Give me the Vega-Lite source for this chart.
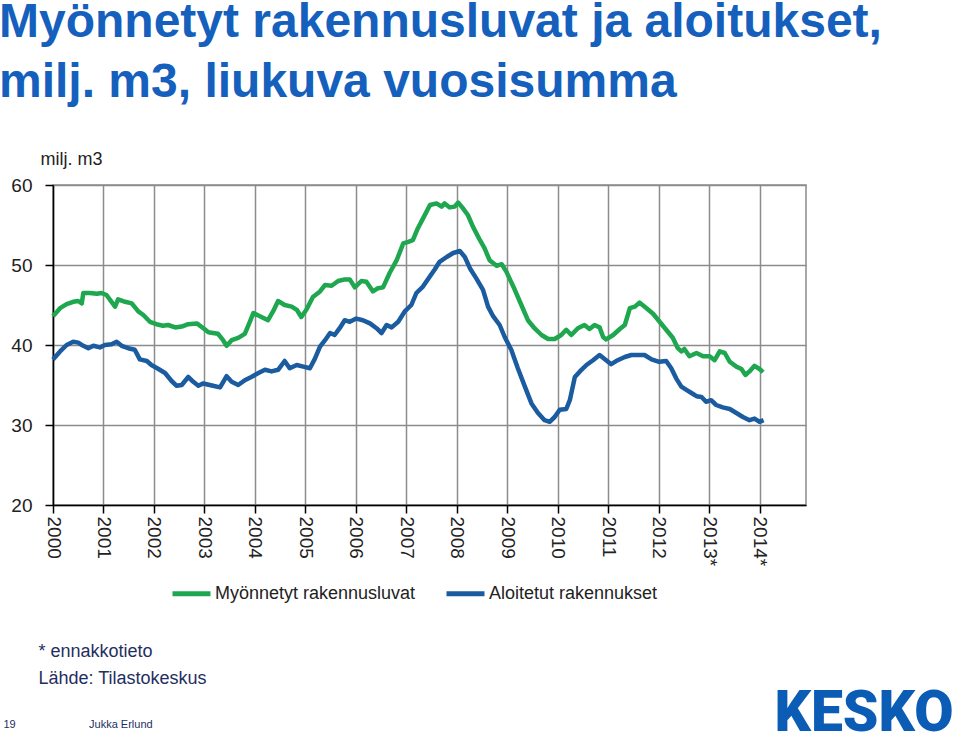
{
  "$schema": "https://vega.github.io/schema/vega-lite/v6.json",
  "width": 753,
  "height": 320,
  "autosize": {"type": "none"},
  "padding": {"left": 53, "top": 185, "right": 154, "bottom": 228},
  "background": "white",
  "config": {"view": {"stroke": "#8c8c8c", "strokeWidth": 1.5}, "font": "Liberation Sans"},
  "title": {
    "text": ["Myönnetyt rakennusluvat ja aloitukset,", "milj. m3, liukuva vuosisumma"],
    "anchor": "start",
    "frame": "group",
    "font": "Liberation Sans",
    "fontSize": 48,
    "fontWeight": "bold",
    "color": "#1560bd",
    "lineHeight": 60,
    "dx": -54,
    "offset": 43
  },
  "data": {"values": [
    {"s": "Myönnetyt rakennusluvat", "t": 2000.00, "v": 43.6},
    {"s": "Myönnetyt rakennusluvat", "t": 2000.14, "v": 44.6},
    {"s": "Myönnetyt rakennusluvat", "t": 2000.27, "v": 45.1},
    {"s": "Myönnetyt rakennusluvat", "t": 2000.40, "v": 45.4},
    {"s": "Myönnetyt rakennusluvat", "t": 2000.50, "v": 45.5},
    {"s": "Myönnetyt rakennusluvat", "t": 2000.57, "v": 45.2},
    {"s": "Myönnetyt rakennusluvat", "t": 2000.60, "v": 46.5},
    {"s": "Myönnetyt rakennusluvat", "t": 2000.73, "v": 46.5},
    {"s": "Myönnetyt rakennusluvat", "t": 2000.87, "v": 46.4},
    {"s": "Myönnetyt rakennusluvat", "t": 2000.96, "v": 46.5},
    {"s": "Myönnetyt rakennusluvat", "t": 2001.06, "v": 46.25},
    {"s": "Myönnetyt rakennusluvat", "t": 2001.16, "v": 45.4},
    {"s": "Myönnetyt rakennusluvat", "t": 2001.23, "v": 44.8},
    {"s": "Myönnetyt rakennusluvat", "t": 2001.29, "v": 45.7},
    {"s": "Myönnetyt rakennusluvat", "t": 2001.43, "v": 45.4},
    {"s": "Myönnetyt rakennusluvat", "t": 2001.56, "v": 45.2},
    {"s": "Myönnetyt rakennusluvat", "t": 2001.69, "v": 44.2},
    {"s": "Myönnetyt rakennusluvat", "t": 2001.79, "v": 43.75},
    {"s": "Myönnetyt rakennusluvat", "t": 2001.92, "v": 42.9},
    {"s": "Myönnetyt rakennusluvat", "t": 2002.05, "v": 42.6},
    {"s": "Myönnetyt rakennusluvat", "t": 2002.18, "v": 42.4},
    {"s": "Myönnetyt rakennusluvat", "t": 2002.28, "v": 42.5},
    {"s": "Myönnetyt rakennusluvat", "t": 2002.42, "v": 42.2},
    {"s": "Myönnetyt rakennusluvat", "t": 2002.55, "v": 42.3},
    {"s": "Myönnetyt rakennusluvat", "t": 2002.68, "v": 42.6},
    {"s": "Myönnetyt rakennusluvat", "t": 2002.85, "v": 42.7},
    {"s": "Myönnetyt rakennusluvat", "t": 2002.98, "v": 42.1},
    {"s": "Myönnetyt rakennusluvat", "t": 2003.08, "v": 41.6},
    {"s": "Myönnetyt rakennusluvat", "t": 2003.17, "v": 41.5},
    {"s": "Myönnetyt rakennusluvat", "t": 2003.27, "v": 41.4},
    {"s": "Myönnetyt rakennusluvat", "t": 2003.37, "v": 40.6},
    {"s": "Myönnetyt rakennusluvat", "t": 2003.44, "v": 39.9},
    {"s": "Myönnetyt rakennusluvat", "t": 2003.54, "v": 40.6},
    {"s": "Myönnetyt rakennusluvat", "t": 2003.67, "v": 40.9},
    {"s": "Myönnetyt rakennusluvat", "t": 2003.80, "v": 41.4},
    {"s": "Myönnetyt rakennusluvat", "t": 2003.90, "v": 42.9},
    {"s": "Myönnetyt rakennusluvat", "t": 2003.97, "v": 44.0},
    {"s": "Myönnetyt rakennusluvat", "t": 2004.10, "v": 43.6},
    {"s": "Myönnetyt rakennusluvat", "t": 2004.26, "v": 43.1},
    {"s": "Myönnetyt rakennusluvat", "t": 2004.36, "v": 44.2},
    {"s": "Myönnetyt rakennusluvat", "t": 2004.46, "v": 45.5},
    {"s": "Myönnetyt rakennusluvat", "t": 2004.59, "v": 45.0},
    {"s": "Myönnetyt rakennusluvat", "t": 2004.73, "v": 44.8},
    {"s": "Myönnetyt rakennusluvat", "t": 2004.83, "v": 44.4},
    {"s": "Myönnetyt rakennusluvat", "t": 2004.92, "v": 43.5},
    {"s": "Myönnetyt rakennusluvat", "t": 2005.02, "v": 44.4},
    {"s": "Myönnetyt rakennusluvat", "t": 2005.15, "v": 46.0},
    {"s": "Myönnetyt rakennusluvat", "t": 2005.29, "v": 46.7},
    {"s": "Myönnetyt rakennusluvat", "t": 2005.39, "v": 47.5},
    {"s": "Myönnetyt rakennusluvat", "t": 2005.52, "v": 47.4},
    {"s": "Myönnetyt rakennusluvat", "t": 2005.65, "v": 48.0},
    {"s": "Myönnetyt rakennusluvat", "t": 2005.78, "v": 48.2},
    {"s": "Myönnetyt rakennusluvat", "t": 2005.88, "v": 48.2},
    {"s": "Myönnetyt rakennusluvat", "t": 2005.98, "v": 47.2},
    {"s": "Myönnetyt rakennusluvat", "t": 2006.11, "v": 48.0},
    {"s": "Myönnetyt rakennusluvat", "t": 2006.21, "v": 47.9},
    {"s": "Myönnetyt rakennusluvat", "t": 2006.34, "v": 46.7},
    {"s": "Myönnetyt rakennusluvat", "t": 2006.44, "v": 47.1},
    {"s": "Myönnetyt rakennusluvat", "t": 2006.54, "v": 47.2},
    {"s": "Myönnetyt rakennusluvat", "t": 2006.67, "v": 49.0},
    {"s": "Myönnetyt rakennusluvat", "t": 2006.81, "v": 50.6},
    {"s": "Myönnetyt rakennusluvat", "t": 2006.94, "v": 52.7},
    {"s": "Myönnetyt rakennusluvat", "t": 2007.04, "v": 52.9},
    {"s": "Myönnetyt rakennusluvat", "t": 2007.13, "v": 53.1},
    {"s": "Myönnetyt rakennusluvat", "t": 2007.23, "v": 54.6},
    {"s": "Myönnetyt rakennusluvat", "t": 2007.33, "v": 55.8},
    {"s": "Myönnetyt rakennusluvat", "t": 2007.47, "v": 57.5},
    {"s": "Myönnetyt rakennusluvat", "t": 2007.60, "v": 57.7},
    {"s": "Myönnetyt rakennusluvat", "t": 2007.70, "v": 57.3},
    {"s": "Myönnetyt rakennusluvat", "t": 2007.76, "v": 57.7},
    {"s": "Myönnetyt rakennusluvat", "t": 2007.86, "v": 57.2},
    {"s": "Myönnetyt rakennusluvat", "t": 2007.96, "v": 57.3},
    {"s": "Myönnetyt rakennusluvat", "t": 2008.03, "v": 57.8},
    {"s": "Myönnetyt rakennusluvat", "t": 2008.12, "v": 57.1},
    {"s": "Myönnetyt rakennusluvat", "t": 2008.22, "v": 56.25},
    {"s": "Myönnetyt rakennusluvat", "t": 2008.32, "v": 54.8},
    {"s": "Myönnetyt rakennusluvat", "t": 2008.46, "v": 53.1},
    {"s": "Myönnetyt rakennusluvat", "t": 2008.55, "v": 52.1},
    {"s": "Myönnetyt rakennusluvat", "t": 2008.65, "v": 50.6},
    {"s": "Myönnetyt rakennusluvat", "t": 2008.79, "v": 49.9},
    {"s": "Myönnetyt rakennusluvat", "t": 2008.89, "v": 50.1},
    {"s": "Myönnetyt rakennusluvat", "t": 2008.98, "v": 49.2},
    {"s": "Myönnetyt rakennusluvat", "t": 2009.15, "v": 46.9},
    {"s": "Myönnetyt rakennusluvat", "t": 2009.28, "v": 45.0},
    {"s": "Myönnetyt rakennusluvat", "t": 2009.41, "v": 43.1},
    {"s": "Myönnetyt rakennusluvat", "t": 2009.54, "v": 42.1},
    {"s": "Myönnetyt rakennusluvat", "t": 2009.68, "v": 41.25},
    {"s": "Myönnetyt rakennusluvat", "t": 2009.81, "v": 40.75},
    {"s": "Myönnetyt rakennusluvat", "t": 2009.94, "v": 40.75},
    {"s": "Myönnetyt rakennusluvat", "t": 2010.07, "v": 41.25},
    {"s": "Myönnetyt rakennusluvat", "t": 2010.17, "v": 41.9},
    {"s": "Myönnetyt rakennusluvat", "t": 2010.27, "v": 41.25},
    {"s": "Myönnetyt rakennusluvat", "t": 2010.40, "v": 42.1},
    {"s": "Myönnetyt rakennusluvat", "t": 2010.53, "v": 42.5},
    {"s": "Myönnetyt rakennusluvat", "t": 2010.63, "v": 42.0},
    {"s": "Myönnetyt rakennusluvat", "t": 2010.73, "v": 42.5},
    {"s": "Myönnetyt rakennusluvat", "t": 2010.83, "v": 42.2},
    {"s": "Myönnetyt rakennusluvat", "t": 2010.90, "v": 41.0},
    {"s": "Myönnetyt rakennusluvat", "t": 2010.96, "v": 40.7},
    {"s": "Myönnetyt rakennusluvat", "t": 2011.10, "v": 41.25},
    {"s": "Myönnetyt rakennusluvat", "t": 2011.23, "v": 42.0},
    {"s": "Myönnetyt rakennusluvat", "t": 2011.33, "v": 42.5},
    {"s": "Myönnetyt rakennusluvat", "t": 2011.43, "v": 44.6},
    {"s": "Myönnetyt rakennusluvat", "t": 2011.53, "v": 44.8},
    {"s": "Myönnetyt rakennusluvat", "t": 2011.62, "v": 45.3},
    {"s": "Myönnetyt rakennusluvat", "t": 2011.76, "v": 44.6},
    {"s": "Myönnetyt rakennusluvat", "t": 2011.89, "v": 43.9},
    {"s": "Myönnetyt rakennusluvat", "t": 2012.02, "v": 42.9},
    {"s": "Myönnetyt rakennusluvat", "t": 2012.15, "v": 41.9},
    {"s": "Myönnetyt rakennusluvat", "t": 2012.28, "v": 40.9},
    {"s": "Myönnetyt rakennusluvat", "t": 2012.38, "v": 39.6},
    {"s": "Myönnetyt rakennusluvat", "t": 2012.45, "v": 39.2},
    {"s": "Myönnetyt rakennusluvat", "t": 2012.51, "v": 39.5},
    {"s": "Myönnetyt rakennusluvat", "t": 2012.61, "v": 38.6},
    {"s": "Myönnetyt rakennusluvat", "t": 2012.75, "v": 39.0},
    {"s": "Myönnetyt rakennusluvat", "t": 2012.88, "v": 38.6},
    {"s": "Myönnetyt rakennusluvat", "t": 2013.01, "v": 38.6},
    {"s": "Myönnetyt rakennusluvat", "t": 2013.11, "v": 38.1},
    {"s": "Myönnetyt rakennusluvat", "t": 2013.21, "v": 39.2},
    {"s": "Myönnetyt rakennusluvat", "t": 2013.31, "v": 39.0},
    {"s": "Myönnetyt rakennusluvat", "t": 2013.41, "v": 37.9},
    {"s": "Myönnetyt rakennusluvat", "t": 2013.54, "v": 37.3},
    {"s": "Myönnetyt rakennusluvat", "t": 2013.64, "v": 37.0},
    {"s": "Myönnetyt rakennusluvat", "t": 2013.72, "v": 36.25},
    {"s": "Myönnetyt rakennusluvat", "t": 2013.80, "v": 36.7},
    {"s": "Myönnetyt rakennusluvat", "t": 2013.90, "v": 37.4},
    {"s": "Myönnetyt rakennusluvat", "t": 2014.00, "v": 37.0},
    {"s": "Myönnetyt rakennusluvat", "t": 2014.07, "v": 36.6},
    {"s": "Aloitetut rakennukset", "t": 2000.00, "v": 38.2},
    {"s": "Aloitetut rakennukset", "t": 2000.14, "v": 39.2},
    {"s": "Aloitetut rakennukset", "t": 2000.27, "v": 40.0},
    {"s": "Aloitetut rakennukset", "t": 2000.40, "v": 40.4},
    {"s": "Aloitetut rakennukset", "t": 2000.50, "v": 40.3},
    {"s": "Aloitetut rakennukset", "t": 2000.60, "v": 39.9},
    {"s": "Aloitetut rakennukset", "t": 2000.70, "v": 39.6},
    {"s": "Aloitetut rakennukset", "t": 2000.80, "v": 39.9},
    {"s": "Aloitetut rakennukset", "t": 2000.93, "v": 39.7},
    {"s": "Aloitetut rakennukset", "t": 2001.03, "v": 40.0},
    {"s": "Aloitetut rakennukset", "t": 2001.16, "v": 40.1},
    {"s": "Aloitetut rakennukset", "t": 2001.26, "v": 40.4},
    {"s": "Aloitetut rakennukset", "t": 2001.36, "v": 39.9},
    {"s": "Aloitetut rakennukset", "t": 2001.49, "v": 39.6},
    {"s": "Aloitetut rakennukset", "t": 2001.62, "v": 39.4},
    {"s": "Aloitetut rakennukset", "t": 2001.72, "v": 38.2},
    {"s": "Aloitetut rakennukset", "t": 2001.86, "v": 38.0},
    {"s": "Aloitetut rakennukset", "t": 2001.95, "v": 37.5},
    {"s": "Aloitetut rakennukset", "t": 2002.09, "v": 37.0},
    {"s": "Aloitetut rakennukset", "t": 2002.22, "v": 36.5},
    {"s": "Aloitetut rakennukset", "t": 2002.35, "v": 35.5},
    {"s": "Aloitetut rakennukset", "t": 2002.45, "v": 34.9},
    {"s": "Aloitetut rakennukset", "t": 2002.55, "v": 35.0},
    {"s": "Aloitetut rakennukset", "t": 2002.68, "v": 36.0},
    {"s": "Aloitetut rakennukset", "t": 2002.78, "v": 35.4},
    {"s": "Aloitetut rakennukset", "t": 2002.88, "v": 34.9},
    {"s": "Aloitetut rakennukset", "t": 2002.98, "v": 35.2},
    {"s": "Aloitetut rakennukset", "t": 2003.04, "v": 35.1},
    {"s": "Aloitetut rakennukset", "t": 2003.17, "v": 34.9},
    {"s": "Aloitetut rakennukset", "t": 2003.31, "v": 34.7},
    {"s": "Aloitetut rakennukset", "t": 2003.44, "v": 36.1},
    {"s": "Aloitetut rakennukset", "t": 2003.54, "v": 35.4},
    {"s": "Aloitetut rakennukset", "t": 2003.67, "v": 35.0},
    {"s": "Aloitetut rakennukset", "t": 2003.80, "v": 35.6},
    {"s": "Aloitetut rakennukset", "t": 2003.93, "v": 36.0},
    {"s": "Aloitetut rakennukset", "t": 2004.07, "v": 36.5},
    {"s": "Aloitetut rakennukset", "t": 2004.20, "v": 36.9},
    {"s": "Aloitetut rakennukset", "t": 2004.33, "v": 36.7},
    {"s": "Aloitetut rakennukset", "t": 2004.46, "v": 36.9},
    {"s": "Aloitetut rakennukset", "t": 2004.59, "v": 38.0},
    {"s": "Aloitetut rakennukset", "t": 2004.69, "v": 37.1},
    {"s": "Aloitetut rakennukset", "t": 2004.83, "v": 37.5},
    {"s": "Aloitetut rakennukset", "t": 2004.96, "v": 37.3},
    {"s": "Aloitetut rakennukset", "t": 2005.09, "v": 37.1},
    {"s": "Aloitetut rakennukset", "t": 2005.19, "v": 38.3},
    {"s": "Aloitetut rakennukset", "t": 2005.29, "v": 39.8},
    {"s": "Aloitetut rakennukset", "t": 2005.39, "v": 40.6},
    {"s": "Aloitetut rakennukset", "t": 2005.49, "v": 41.5},
    {"s": "Aloitetut rakennukset", "t": 2005.58, "v": 41.25},
    {"s": "Aloitetut rakennukset", "t": 2005.68, "v": 42.1},
    {"s": "Aloitetut rakennukset", "t": 2005.78, "v": 43.1},
    {"s": "Aloitetut rakennukset", "t": 2005.88, "v": 42.9},
    {"s": "Aloitetut rakennukset", "t": 2006.01, "v": 43.3},
    {"s": "Aloitetut rakennukset", "t": 2006.14, "v": 43.1},
    {"s": "Aloitetut rakennukset", "t": 2006.28, "v": 42.7},
    {"s": "Aloitetut rakennukset", "t": 2006.41, "v": 42.1},
    {"s": "Aloitetut rakennukset", "t": 2006.51, "v": 41.5},
    {"s": "Aloitetut rakennukset", "t": 2006.61, "v": 42.5},
    {"s": "Aloitetut rakennukset", "t": 2006.71, "v": 42.2},
    {"s": "Aloitetut rakennukset", "t": 2006.84, "v": 42.9},
    {"s": "Aloitetut rakennukset", "t": 2006.97, "v": 44.2},
    {"s": "Aloitetut rakennukset", "t": 2007.10, "v": 45.0},
    {"s": "Aloitetut rakennukset", "t": 2007.20, "v": 46.5},
    {"s": "Aloitetut rakennukset", "t": 2007.33, "v": 47.3},
    {"s": "Aloitetut rakennukset", "t": 2007.47, "v": 48.6},
    {"s": "Aloitetut rakennukset", "t": 2007.56, "v": 49.4},
    {"s": "Aloitetut rakennukset", "t": 2007.66, "v": 50.4},
    {"s": "Aloitetut rakennukset", "t": 2007.80, "v": 51.0},
    {"s": "Aloitetut rakennukset", "t": 2007.93, "v": 51.5},
    {"s": "Aloitetut rakennukset", "t": 2008.06, "v": 51.75},
    {"s": "Aloitetut rakennukset", "t": 2008.16, "v": 51.0},
    {"s": "Aloitetut rakennukset", "t": 2008.26, "v": 49.6},
    {"s": "Aloitetut rakennukset", "t": 2008.39, "v": 48.3},
    {"s": "Aloitetut rakennukset", "t": 2008.52, "v": 46.9},
    {"s": "Aloitetut rakennukset", "t": 2008.62, "v": 44.8},
    {"s": "Aloitetut rakennukset", "t": 2008.72, "v": 43.6},
    {"s": "Aloitetut rakennukset", "t": 2008.85, "v": 42.5},
    {"s": "Aloitetut rakennukset", "t": 2008.95, "v": 41.0},
    {"s": "Aloitetut rakennukset", "t": 2009.08, "v": 39.4},
    {"s": "Aloitetut rakennukset", "t": 2009.21, "v": 37.1},
    {"s": "Aloitetut rakennukset", "t": 2009.35, "v": 34.8},
    {"s": "Aloitetut rakennukset", "t": 2009.48, "v": 32.7},
    {"s": "Aloitetut rakennukset", "t": 2009.61, "v": 31.5},
    {"s": "Aloitetut rakennukset", "t": 2009.74, "v": 30.6},
    {"s": "Aloitetut rakennukset", "t": 2009.84, "v": 30.4},
    {"s": "Aloitetut rakennukset", "t": 2009.94, "v": 31.0},
    {"s": "Aloitetut rakennukset", "t": 2010.04, "v": 31.9},
    {"s": "Aloitetut rakennukset", "t": 2010.17, "v": 32.0},
    {"s": "Aloitetut rakennukset", "t": 2010.24, "v": 33.1},
    {"s": "Aloitetut rakennukset", "t": 2010.34, "v": 36.0},
    {"s": "Aloitetut rakennukset", "t": 2010.44, "v": 36.7},
    {"s": "Aloitetut rakennukset", "t": 2010.57, "v": 37.5},
    {"s": "Aloitetut rakennukset", "t": 2010.70, "v": 38.1},
    {"s": "Aloitetut rakennukset", "t": 2010.83, "v": 38.75},
    {"s": "Aloitetut rakennukset", "t": 2010.96, "v": 38.1},
    {"s": "Aloitetut rakennukset", "t": 2011.06, "v": 37.6},
    {"s": "Aloitetut rakennukset", "t": 2011.19, "v": 38.1},
    {"s": "Aloitetut rakennukset", "t": 2011.33, "v": 38.5},
    {"s": "Aloitetut rakennukset", "t": 2011.46, "v": 38.75},
    {"s": "Aloitetut rakennukset", "t": 2011.59, "v": 38.75},
    {"s": "Aloitetut rakennukset", "t": 2011.72, "v": 38.75},
    {"s": "Aloitetut rakennukset", "t": 2011.86, "v": 38.2},
    {"s": "Aloitetut rakennukset", "t": 2012.01, "v": 37.9},
    {"s": "Aloitetut rakennukset", "t": 2012.15, "v": 38.0},
    {"s": "Aloitetut rakennukset", "t": 2012.25, "v": 37.1},
    {"s": "Aloitetut rakennukset", "t": 2012.35, "v": 35.8},
    {"s": "Aloitetut rakennukset", "t": 2012.45, "v": 34.8},
    {"s": "Aloitetut rakennukset", "t": 2012.55, "v": 34.4},
    {"s": "Aloitetut rakennukset", "t": 2012.65, "v": 34.0},
    {"s": "Aloitetut rakennukset", "t": 2012.75, "v": 33.6},
    {"s": "Aloitetut rakennukset", "t": 2012.85, "v": 33.5},
    {"s": "Aloitetut rakennukset", "t": 2012.94, "v": 32.9},
    {"s": "Aloitetut rakennukset", "t": 2013.04, "v": 33.1},
    {"s": "Aloitetut rakennukset", "t": 2013.14, "v": 32.5},
    {"s": "Aloitetut rakennukset", "t": 2013.27, "v": 32.2},
    {"s": "Aloitetut rakennukset", "t": 2013.41, "v": 32.0},
    {"s": "Aloitetut rakennukset", "t": 2013.54, "v": 31.5},
    {"s": "Aloitetut rakennukset", "t": 2013.67, "v": 31.0},
    {"s": "Aloitetut rakennukset", "t": 2013.80, "v": 30.6},
    {"s": "Aloitetut rakennukset", "t": 2013.90, "v": 30.8},
    {"s": "Aloitetut rakennukset", "t": 2014.00, "v": 30.4},
    {"s": "Aloitetut rakennukset", "t": 2014.08, "v": 30.6}
  ]},
  "layer": [
    {
      "mark": {"type": "line", "strokeWidth": 4.5, "strokeJoin": "round"},
      "encoding": {
        "x": {
          "field": "t", "type": "quantitative",
          "scale": {"domain": [2000, 2014.92], "nice": false, "zero": false},
          "axis": {
            "orient": "bottom",
            "values": [2000, 2001, 2002, 2003, 2004, 2005, 2006, 2007, 2008, 2009, 2010, 2011, 2012, 2013, 2014],
            "format": "d",
            "labelExpr": "datum.value >= 2013 ? datum.label + '*' : datum.label",
            "labelAngle": 90,
            "labelFont": "Liberation Sans",
            "labelFontSize": 19,
            "labelColor": "#222222",
            "labelPadding": 3,
            "labelOverlap": false,
            "grid": true,
            "gridColor": "#8c8c8c",
            "gridWidth": 1.5,
            "domainColor": "#000000",
            "domainWidth": 1.5,
            "tickColor": "#000000",
            "tickWidth": 1.5,
            "tickSize": 8,
            "title": ["* ennakkotieto", "Lähde: Tilastokeskus"],
            "titleFont": "Liberation Sans",
            "titleFontSize": 18,
            "titleFontWeight": "normal",
            "titleColor": "#1f2f5f",
            "titleLineHeight": 27,
            "titleAlign": "left",
            "titleAnchor": "start",
            "titleBaseline": "alphabetic",
            "titleAngle": 0,
            "titleX": -15,
            "titleY": 151
          }
        },
        "y": {
          "field": "v", "type": "quantitative",
          "scale": {"domain": [20, 60], "nice": false, "zero": false},
          "axis": {
            "orient": "left",
            "values": [20, 30, 40, 50, 60],
            "format": "d",
            "labelFont": "Liberation Sans",
            "labelFontSize": 19,
            "labelColor": "#222222",
            "labelPadding": 13,
            "grid": true,
            "gridColor": "#8c8c8c",
            "gridWidth": 1.5,
            "domainColor": "#000000",
            "domainWidth": 1.5,
            "tickColor": "#000000",
            "tickWidth": 1.5,
            "tickSize": 8,
            "title": "milj. m3",
            "titleFont": "Liberation Sans",
            "titleFontSize": 18,
            "titleFontWeight": "normal",
            "titleColor": "#222222",
            "titleAngle": 0,
            "titleAlign": "left",
            "titleBaseline": "alphabetic",
            "titleX": -13,
            "titleY": -21
          }
        },
        "color": {
          "field": "s", "type": "nominal",
          "scale": {"domain": ["Myönnetyt rakennusluvat", "Aloitetut rakennukset"], "range": ["#1fa74f", "#1a5c9f"]},
          "legend": {
            "orient": "none",
            "legendX": 117,
            "legendY": 387,
            "direction": "horizontal",
            "title": null,
            "symbolType": "stroke",
            "symbolSize": 1444,
            "symbolStrokeWidth": 5,
            "labelFont": "Liberation Sans",
            "labelFontSize": 18,
            "labelColor": "#222222",
            "labelOffset": 2,
            "columnPadding": 20,
            "labelLimit": 400
          }
        }
      }
    },
    {
      "mark": {"type": "line", "opacity": 0},
      "encoding": {
        "detail": {"field": "s", "type": "nominal"},
        "x": {
          "field": "t", "type": "quantitative",
          "axis": {
            "orient": "top",
            "labels": false, "ticks": false, "domain": false, "grid": false,
            "title": "19\u00a0\u00a0\u00a0\u00a0\u00a0\u00a0\u00a0\u00a0\u00a0\u00a0\u00a0\u00a0\u00a0\u00a0\u00a0\u00a0\u00a0\u00a0\u00a0\u00a0\u00a0\u00a0\u00a0\u00a0Jukka Erlund",
            "titleFont": "Liberation Sans",
            "titleFontSize": 11,
            "titleFontWeight": "normal",
            "titleColor": "#1f2f5f",
            "titleAlign": "left",
            "titleBaseline": "alphabetic",
            "titleAngle": 0,
            "titleX": -50,
            "titleY": 542
          }
        },
        "y": {
          "field": "v", "type": "quantitative",
          "axis": {
            "orient": "right",
            "labels": false, "ticks": false, "domain": false, "grid": false,
            "title": "KESKO",
            "titleFont": "Roboto",
            "titleFontSize": 57,
            "titleFontWeight": 900,
            "titleColor": "#0b5cb5",
            "titleAlign": "left",
            "titleBaseline": "alphabetic",
            "titleAngle": 0,
            "titleX": -32,
            "titleY": 545
          }
        }
      }
    }
  ],
  "resolve": {"axis": {"x": "independent", "y": "independent"}}
}
